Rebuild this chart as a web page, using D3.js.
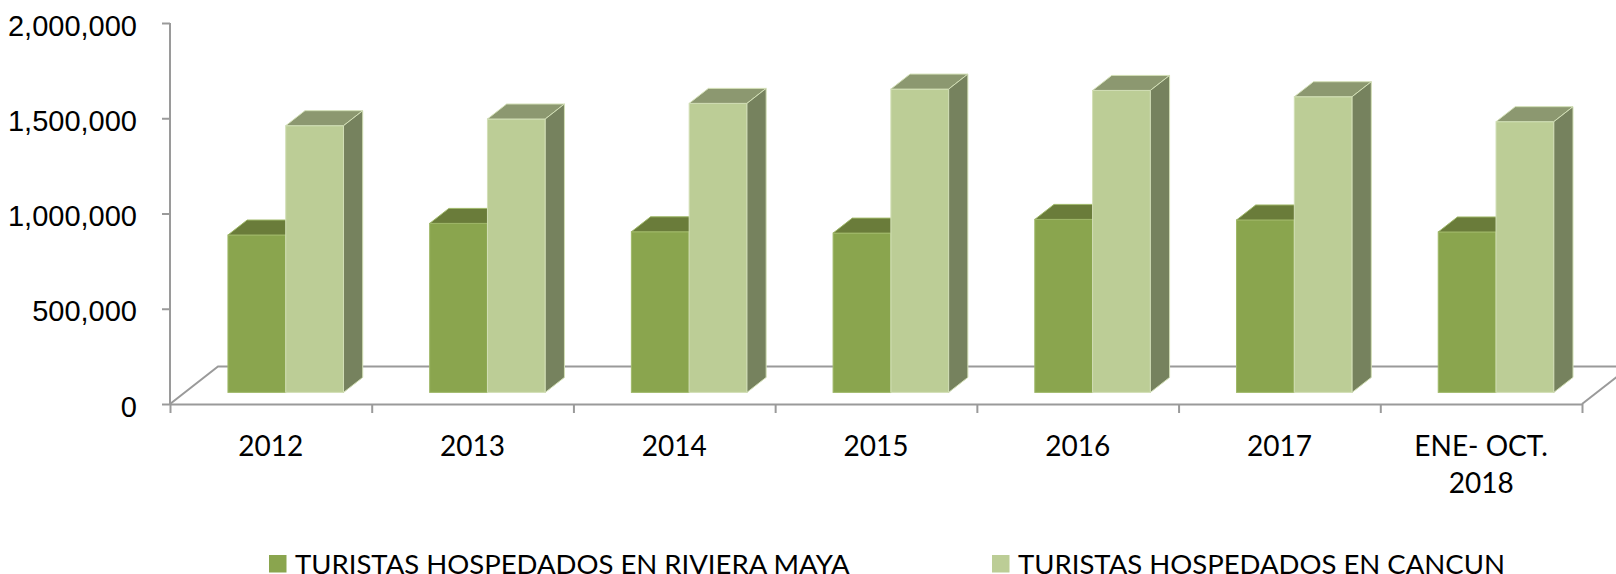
<!DOCTYPE html>
<html>
<head>
<meta charset="utf-8">
<script src="https://cdn.jsdelivr.net/npm/d3@7"></script>
<style>
    body { margin: 0; background: #fff; }
    svg { display: block; font-family: Lato, "Open Sans", sans-serif; }
    .axis path, .axis line { stroke: #9a9a9a; stroke-width: 2; }
    .axis text { fill: #000; font-size: 29px; }
</style>
</head>
<body>
<div id="graphSpace"></div>
<script>
// data
var categories = ["2012", "2013", "2014", "2015", "2016", "2017", "ENE- OCT. 2018"];
var rivieraMaya = [826000, 887000, 843000, 836000, 908000, 905000, 842000];
var cancun = [1400000, 1435000, 1517000, 1592000, 1585000, 1552000, 1421000];
var seriesNames = ["TURISTAS HOSPEDADOS EN RIVIERA MAYA", "TURISTAS HOSPEDADOS EN CANCUN"];
var yTicks = [0, 500000, 1000000, 1500000, 2000000];

var width = 1616, height = 574;
var plotLeft = 170, plotRight = 1582, plotTop = 23, plotBottom = 404;

// oblique 3d offsets
var floorDx = 48, floorDy = 37.5;
var barOff = 0.31, barDepth = 0.4;
var bdx = floorDx * barOff, bdy = floorDy * barOff;
var ddx = floorDx * barDepth, ddy = floorDy * barDepth;

var colors = [
    {front: "#8aa54e", top: "#6a7c3a", side: "#5f7035", edge: "#9fb868"},
    {front: "#bccd96", top: "#8c9870", side: "#76825e", edge: "#d2dfb6"}
];

var series = [rivieraMaya, cancun];

var svg = d3.select("#graphSpace").append("svg")
    .attr("width", width)
    .attr("height", height);

var x0 = d3.scaleBand().domain(categories).range([plotLeft, plotRight])
    .paddingInner(0.427).paddingOuter(0.2135);
var x1 = d3.scaleBand().domain([0, 1]).range([0, x0.bandwidth()]);
var xEdges = d3.scaleLinear().domain([0, categories.length]).range([plotLeft, plotRight]);
var y = d3.scaleLinear().domain([0, 2000000]).range([plotBottom, plotTop]);

// floor
var floor = svg.append("g").attr("fill", "none").attr("stroke", "#9a9a9a").attr("stroke-width", 2);
floor.append("path")
    .attr("d", d3.line()([[plotLeft, plotBottom], [plotLeft + floorDx, plotBottom - floorDy], [plotRight + floorDx, plotBottom - floorDy]]));
floor.append("path")
    .attr("d", d3.line()([[plotRight, plotBottom], [plotRight + floorDx, plotBottom - floorDy]]));

// x axis : ticks between categories
svg.append("g")
    .attr("class", "axis")
    .attr("transform", "translate(0," + plotBottom + ")")
    .call(d3.axisBottom(xEdges).tickValues(d3.range(categories.length + 1))
        .tickSize(9).tickSizeOuter(0).tickFormat(""));

// y axis
var yAxis = svg.append("g")
    .attr("class", "axis")
    .attr("transform", "translate(" + plotLeft + ",0)")
    .call(d3.axisLeft(y).tickValues(yTicks).tickSize(8).tickSizeOuter(0)
        .tickPadding(25).tickFormat(d3.format(",")));
yAxis.selectAll("text").attr("dy", "0.42em");
yAxis.select(".domain").remove();
yAxis.append("line").attr("x1", 0).attr("x2", 0).attr("y1", plotTop).attr("y2", plotBottom);

// category labels, wrapped like excel
var labels = svg.append("g").attr("font-size", "28px").attr("fill", "#000").attr("text-anchor", "middle");
categories.forEach(function (c) {
    var words = c.split(" "), lines = [], cur = "";
    var probe = labels.append("text");
    words.forEach(function (w) {
        var t = cur ? cur + " " + w : w;
        probe.text(t);
        if (cur && probe.node().getComputedTextLength() > x0.step() * 0.8) {
            lines.push(cur);
            cur = w;
        } else {
            cur = t;
        }
    });
    lines.push(cur);
    probe.remove();
    var txt = labels.append("text")
        .attr("x", x0(c) + x0.bandwidth() / 2)
        .attr("y", 455.5);
    lines.forEach(function (l, i) {
        txt.append("tspan").attr("x", x0(c) + x0.bandwidth() / 2).attr("dy", i ? 37 : 0).text(l);
    });
});

// bars
var bars = svg.append("g").attr("stroke-width", 1);
categories.forEach(function (c, i) {
    series.forEach(function (s, k) {
        var col = colors[k];
        var xl = x0(c) + x1(k) + bdx, w = x1.bandwidth();
        var yt = y(s[i]) - bdy, yb = y(0) - bdy;
        var g = bars.append("g").attr("stroke", col.edge);
        g.append("rect")
            .attr("x", xl).attr("y", yt)
            .attr("width", w).attr("height", yb - yt)
            .attr("fill", col.front);
        g.append("path")
            .attr("fill", col.top)
            .attr("d", d3.line()([[xl, yt], [xl + ddx, yt - ddy], [xl + w + ddx, yt - ddy], [xl + w, yt]]) + "Z");
        g.append("path")
            .attr("fill", col.side)
            .attr("d", d3.line()([[xl + w, yt], [xl + w + ddx, yt - ddy], [xl + w + ddx, yb - ddy], [xl + w, yb]]) + "Z");
    });
});

// legend
var legendX = [269, 992];
var legend = svg.append("g").attr("font-size", "27.5px");
seriesNames.forEach(function (n, k) {
    legend.append("rect")
        .attr("x", legendX[k]).attr("y", 555)
        .attr("width", 17.5).attr("height", 17.5)
        .attr("fill", colors[k].front);
    legend.append("text")
        .attr("x", legendX[k] + 26).attr("y", 574)
        .attr("fill", "#000")
        .text(n);
});
</script>
</body>
</html>
